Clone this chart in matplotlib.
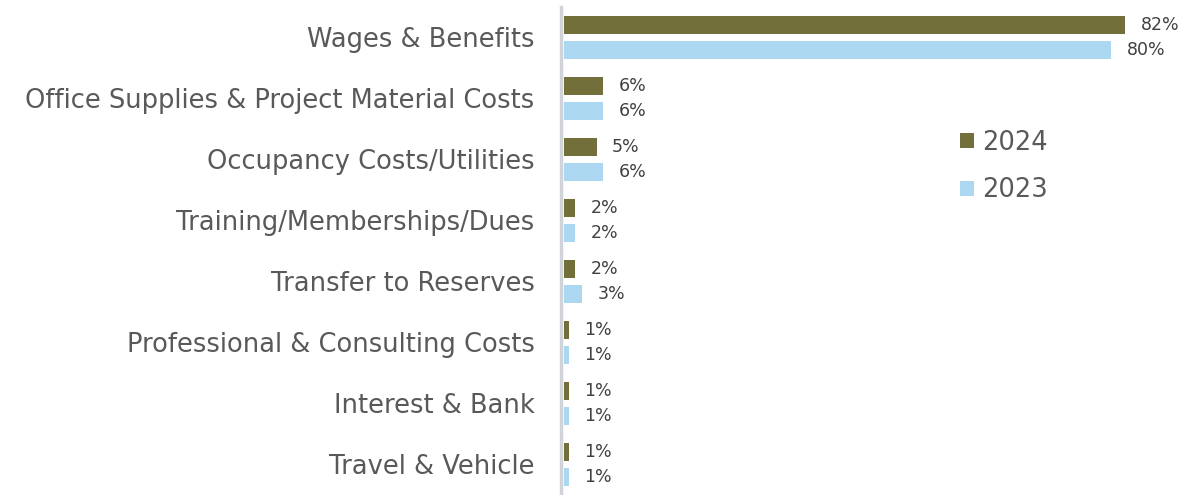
import matplotlib
matplotlib.use("Agg")
import matplotlib.pyplot as plt
import numpy as np

plt.rcParams["font.family"] = ["DejaVu Sans"]

categories = ["Wages & Benefits", "Office Supplies & Project Material Costs",
              "Occupancy Costs/Utilities", "Training/Memberships/Dues",
              "Transfer to Reserves", "Professional & Consulting Costs",
              "Interest & Bank", "Travel & Vehicle"]
pct_2024 = [82, 5.8, 4.8, 1.7, 1.7, 0.8, 0.8, 0.8]
pct_2023 = [80, 5.8, 5.8, 1.7, 2.7, 0.8, 0.8, 0.8]

c24, c23 = "#736f3b", "#abd7f0"
txt = "#595959"

fig = plt.figure(figsize=(11.92, 4.95), dpi=100)
ax = fig.add_axes([0.4706, 0.0, 0.517, 0.986])

y = np.arange(len(categories))
h = 0.29
b24 = ax.barh(y - 0.205, pct_2024, height=h, color=c24, label="2024")
b23 = ax.barh(y + 0.205, pct_2023, height=h, color=c23, label="2023")

for bars, vals in ((b24, pct_2024), (b23, pct_2023)):
    for bar, v in zip(bars, vals):
        ax.annotate(f"{v:.0f}%", (bar.get_width(), bar.get_y() + bar.get_height() / 2),
                    xytext=(11, 0), textcoords="offset points",
                    ha="left", va="center", fontsize=12.5, color="#404040")

ax.set_xlim(-0.4, 89.6)
ax.set_ylim(len(categories) - 0.5, -0.5)
ax.set_yticks(y, categories)
ax.tick_params(axis="y", length=0, pad=19, labelsize=18.5, labelcolor=txt)
ax.set_xticks([])
for s in ("top", "right", "bottom"):
    ax.spines[s].set_visible(False)
ax.spines["left"].set_color("#d0d4d8")
ax.spines["left"].set_linewidth(2.5)

fig.legend(handles=[b24, b23], loc="upper left", bbox_to_anchor=(0.786, 0.785),
           frameon=False, fontsize=18.5, labelcolor=txt, handlelength=0.55,
           handleheight=0.55, handletextpad=0.3, labelspacing=0.85)

fig.savefig("out.png", dpi=100)
